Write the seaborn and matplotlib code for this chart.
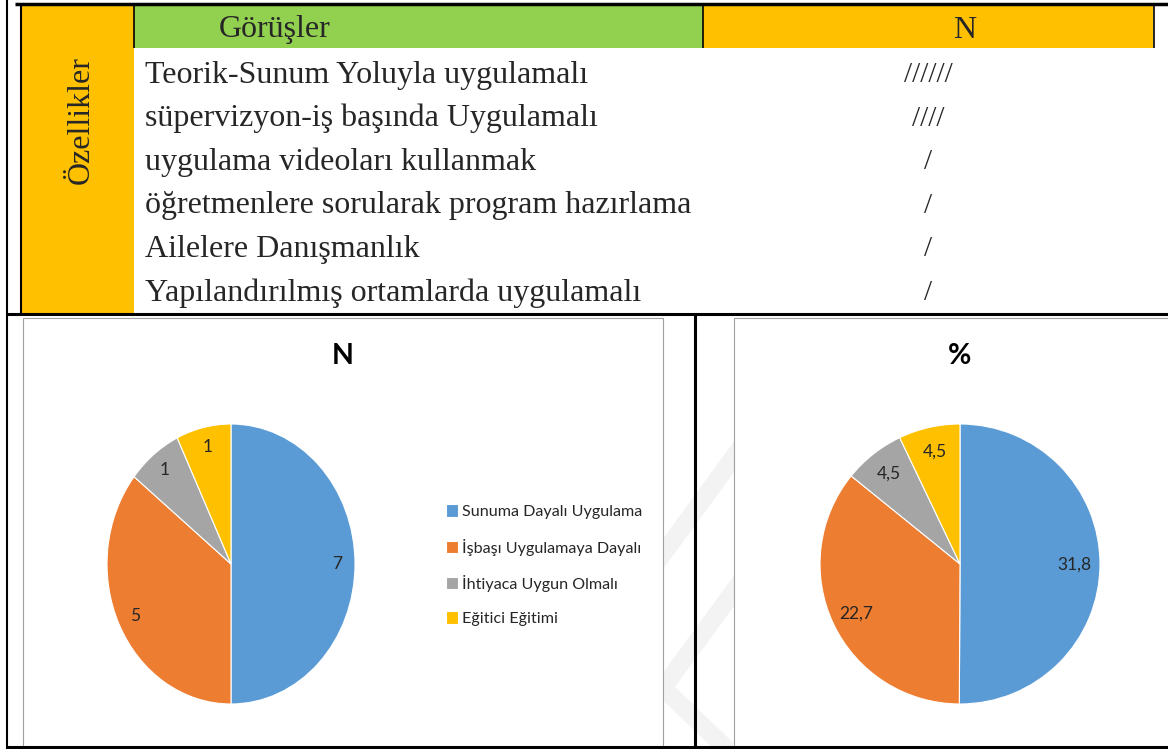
import numpy as np
import pandas as pd
import seaborn as sns
from matplotlib import pyplot as plt
from matplotlib.patches import Rectangle

# table rows (opinions) and their tally counts
opinions = [
    'Teorik-Sunum Yoluyla uygulamalı',
    'süpervizyon-iş başında Uygulamalı',
    'uygulama videoları kullanmak',
    'öğretmenlere sorularak program hazırlama',
    'Ailelere Danışmanlık',
    'Yapılandırılmış ortamlarda uygulamalı',
]
tally_counts = [6, 4, 1, 1, 1, 1]

# pie chart data
categories = ['Sunuma Dayalı Uygulama', 'İşbaşı Uygulamaya Dayalı',
              'İhtiyaca Uygun Olmalı', 'Eğitici Eğitimi']
counts = [7, 5, 1, 1]
percents = [31.8, 22.7, 4.5, 4.5]

W, H = 1168, 749
sns.set_theme(style='white')
colors = sns.color_palette(['#5B9BD5', '#ED7D31', '#A5A5A5', '#FFC000'])
serif = 'Liberation Serif'
sans = 'Lato'

fig = plt.figure(figsize=(W / 100, H / 100), dpi=100)
fig.patch.set_facecolor('white')

# overlay axes in pixel coordinates for the table frame
ov = fig.add_axes([0, 0, 1, 1], zorder=0)
ov.set_xlim(0, W)
ov.set_ylim(H, 0)
ov.axis('off')

# header cells
ov.add_patch(Rectangle((22, 5), 112, 308, facecolor='#FFC000', edgecolor='none'))
ov.add_patch(Rectangle((134, 5), 569, 43, facecolor='#92D050', edgecolor='none'))
ov.add_patch(Rectangle((703, 5), 450, 43, facecolor='#FFC000', edgecolor='none'))

# faint watermark bands between the chart boxes
for xs, ys in [([780, 600], [394, 640]), ([780, 600], [528, 774]), ([640, 780], [666, 800])]:
    ov.plot(xs, ys, color='#f3f3f3', lw=13, solid_capstyle='butt', zorder=1)

# chart boxes
ov.add_patch(Rectangle((23, 318), 640, 440, facecolor='white', edgecolor='#a0a0a0', lw=0.8, zorder=2))
ov.add_patch(Rectangle((734, 318), 440, 440, facecolor='white', edgecolor='#a0a0a0', lw=0.8, zorder=2))

# black rules
k = dict(color='black', zorder=3, solid_capstyle='butt')
ov.plot([15, W], [4, 4], lw=2.5, **k)
ov.plot([7, 7], [0, H], lw=1.5, **k)
ov.plot([21, 21], [4, 313], lw=1.5, **k)
ov.plot([134, 134], [4, 48], lw=1.2, **k)
ov.plot([703, 703], [4, 48], lw=1.2, **k)
ov.plot([1154, 1154], [4, 48], lw=1.2, **k)
ov.plot([7, W], [314, 314], lw=2.2, **k)
ov.plot([695, 695], [314, H], lw=2.2, **k)
ov.plot([7, W], [747, 747], lw=2.2, **k)

# table text
ts = 23
ov.text(81, 120, 'Özellikler', rotation=90, ha='center', va='center',
        family=serif, fontsize=ts, zorder=4)
ov.text(275, 30, 'Görüşler', ha='center', va='center', family=serif, fontsize=ts, zorder=4)
ov.text(965, 30, 'N', ha='center', va='center', family=serif, fontsize=ts, zorder=4)
row_y = np.linspace(75, 293, len(opinions))
for y, txt, n in zip(row_y, opinions, tally_counts):
    ov.text(145, y, txt, ha='left', va='center', family=serif, fontsize=ts, zorder=4)
    ov.text(928, y, '/' * n, ha='center', va='center', family=serif, fontsize=ts - 2, zorder=4)


def draw_pie(rect, values, labels, title, dist, title_xy):
    ax = fig.add_axes([rect[0] / W, 1 - (rect[1] + rect[3]) / H, rect[2] / W, rect[3] / H], zorder=5)
    ax.patch.set_alpha(0)
    wedges, _, texts = ax.pie(values, colors=colors, startangle=90, counterclock=False,
                              autopct=lambda p: '', pctdistance=dist,
                              wedgeprops=dict(edgecolor='white', linewidth=0.8))
    for t, lab in zip(texts, labels):
        t.set_text(lab)
        t.set_fontsize(12.5)
        t.set_family(sans)
        t.set_color('#262626')
    ax.set_aspect('auto')
    ax.set_xlim(-1, 1)
    ax.set_ylim(-1, 1)
    ax.axis('off')
    ov.text(title_xy[0], title_xy[1], title, ha='center', va='center', family=sans,
            fontsize=20.5, fontweight='bold', color='black', zorder=4)
    return wedges


wedges = draw_pie((107, 424, 248, 280), counts, [str(v) for v in counts], 'N', 0.86, (343, 356))
draw_pie((820, 424, 280, 280), percents, [f'{v:.1f}'.replace('.', ',') for v in percents],
         '%', 0.82, (960, 356))

leg = fig.legend(wedges, categories, loc='upper left', bbox_to_anchor=(431 / W, 1 - 490 / H),
                 frameon=False, prop={'family': sans, 'size': 11.6}, handlelength=0.8,
                 handleheight=0.8, handletextpad=0.2, labelspacing=1.2)
for t in leg.get_texts():
    t.set_color('#262626')

fig.savefig('out.png', dpi=100)
